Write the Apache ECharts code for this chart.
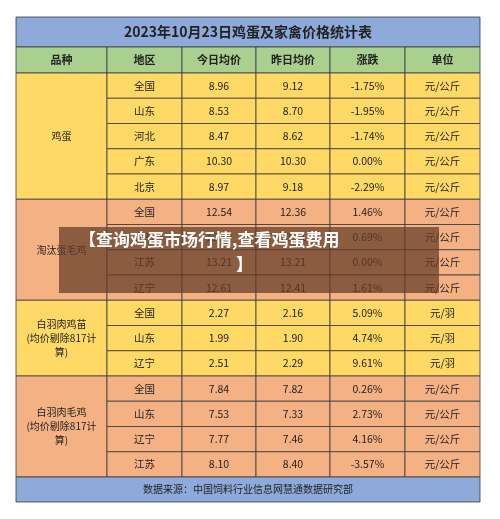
<!DOCTYPE html>
<html><head><meta charset="utf-8">
<script src="https://cdn.jsdelivr.net/npm/echarts@6/dist/echarts.min.js"></script>
<style>html,body{margin:0;background:#fff}#c{width:500px;height:519px}</style>
</head><body><div id="c"></div>
<script>
const title = '2023年10月23日鸡蛋及家禽价格统计表';
const headers = ['品种','地区','今日均价','昨日均价','涨跌','单位'];
const groups = ['鸡蛋','淘汰蛋毛鸡','白羽肉鸡苗\n(均价剔除817计\n算)','白羽肉毛鸡\n(均价剔除817计\n算)'];
const groupSizes = [5,4,3,4];
const regions = ['全国','山东','河北','广东','北京','全国','山东','江苏','辽宁','全国','山东','辽宁','全国','山东','辽宁','江苏'];
const today = ['8.96','8.53','8.47','10.30','8.97','12.54','13.20','13.21','12.61','2.27','1.99','2.51','7.84','7.53','7.77','8.10'];
const yesterday = ['9.12','8.70','8.62','10.30','9.18','12.36','13.11','13.21','12.41','2.16','1.90','2.29','7.82','7.33','7.46','8.40'];
const change = ['-1.75%','-1.95%','-1.74%','0.00%','-2.29%','1.46%','0.69%','0.00%','1.61%','5.09%','4.74%','9.61%','0.26%','2.73%','4.16%','-3.57%'];
const units = ['元/公斤','元/公斤','元/公斤','元/公斤','元/公斤','元/公斤','元/公斤','元/公斤','元/公斤','元/羽','元/羽','元/羽','元/公斤','元/公斤','元/公斤','元/公斤'];
const source = '数据来源：中国饲料行业信息网慧通数据研究部';

const colX = [0,91,166,240,314,389,464];
const groupColors = ['#ffd966','#f4b183','#ffd966','#f4b183'];
const TITLE_H = 30, HEAD_H = 26, ROW_H = 25.25, FOOT_H = 25;
const cells = [];
const totalH = TITLE_H + HEAD_H + ROW_H*regions.length + FOOT_H;
cells.push([0,464,0,TITLE_H,'#8eaadb',title,14,'bold']);
headers.forEach((h,i)=>cells.push([colX[i],colX[i+1],TITLE_H,TITLE_H+HEAD_H,'#a9d08e',h,11,'bold']));
let r = 0;
groups.forEach((g,gi)=>{
  const y0 = TITLE_H+HEAD_H+r*ROW_H;
  cells.push([colX[0],colX[1],y0,y0+groupSizes[gi]*ROW_H,groupColors[gi],g,10,'normal']);
  for(let k=0;k<groupSizes[gi];k++){
    const yy = y0+k*ROW_H;
    const vals=[regions[r],today[r],yesterday[r],change[r],units[r]];
    vals.forEach((v,ci)=>cells.push([colX[ci+1],colX[ci+2],yy,yy+ROW_H,groupColors[gi],v,10.5,'normal']));
    r++;
  }
});
cells.push([0,464,totalH-FOOT_H,totalH,'#8eaadb',source,10,'normal']);

const chart = echarts.init(document.getElementById('c'));
chart.setOption({
  animation:false,
  grid:{left:16,right:20,top:17,bottom:519-17-totalH},
  xAxis:{type:'value',min:0,max:464,show:false},
  yAxis:{type:'value',min:0,max:totalH,inverse:true,show:false},
  series:[{
    type:'custom',
    z:1,
    data:cells,
    renderItem:(p,api)=>{
      const a=api.coord([api.value(0),api.value(2)]);
      const b=api.coord([api.value(1),api.value(3)]);
      const d=cells[p.dataIndex];
      return {type:'group',children:[
        {type:'rect',shape:{x:a[0],y:a[1],width:b[0]-a[0],height:b[1]-a[1]},
         style:{fill:d[4],stroke:'#3a3a3a',lineWidth:0.8}},
        {type:'text',style:{x:(a[0]+b[0])/2,y:(a[1]+b[1])/2,text:d[5],align:'center',verticalAlign:'middle',
          font:d[7]+' '+d[6]+'px "Noto Sans CJK SC"',fill:'#222',lineHeight:d[6]+4}}
      ]};
    }
  }],
  graphic:{elements:[
    {type:'rect',z:100,zlevel:1,x:59,y:227,shape:{x:0,y:0,width:380,height:66},style:{fill:'rgba(100,60,40,0.72)'}},
    {type:'text',z:101,zlevel:1,x:79,y:231,style:{text:'【查询鸡蛋市场行情,查看鸡蛋费用',font:'bold 17px "Noto Sans CJK SC"',fill:'#fff'}},
    {type:'text',z:101,zlevel:1,x:236,y:256,style:{text:'】',font:'bold 17px "Noto Sans CJK SC"',fill:'#fff'}}
  ]}
});
</script></body></html>
